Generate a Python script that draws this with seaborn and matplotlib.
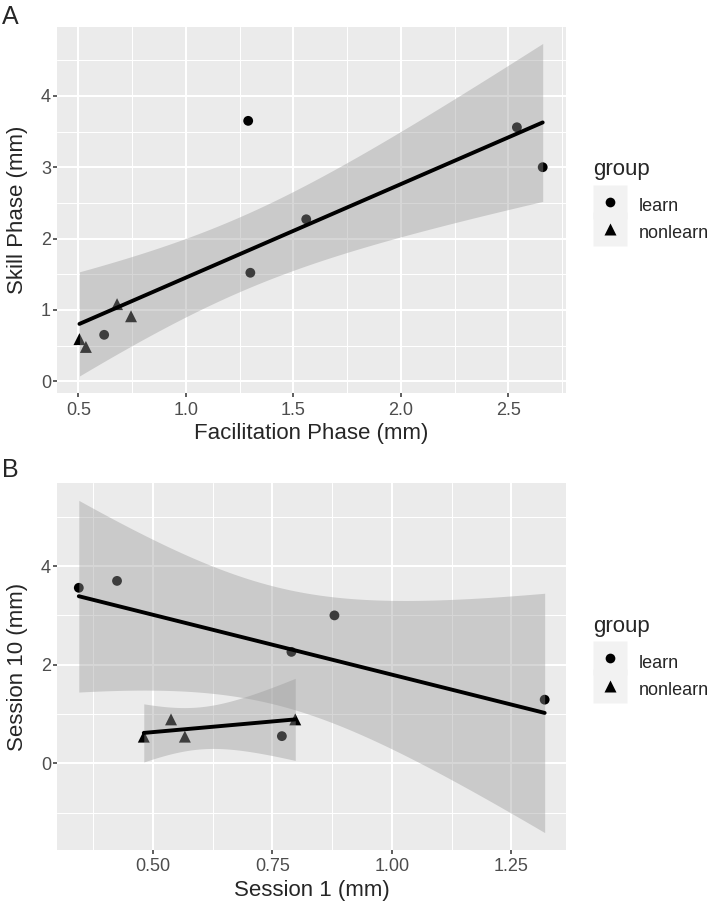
import numpy as np
import pandas as pd
import matplotlib
matplotlib.use("Agg")
import matplotlib.pyplot as plt
from matplotlib.ticker import MultipleLocator, FormatStrFormatter
from matplotlib.lines import Line2D
import seaborn as sns

# panel A: facilitation phase vs skill phase
groups_a = ["learn"] * 6 + ["nonlearn"] * 4
facilitation = [0.62, 1.29, 1.30, 1.56, 2.54, 2.66, 0.505, 0.535, 0.68, 0.745]
skill = [0.65, 3.65, 1.52, 2.27, 3.56, 3.00, 0.59, 0.48, 1.08, 0.91]

# panel B: session 1 vs session 10
groups_b = ["learn"] * 6 + ["nonlearn"] * 4
session1 = [0.345, 0.425, 0.77, 0.79, 0.88, 1.32, 0.481, 0.538, 0.567, 0.798]
session10 = [3.56, 3.70, 0.55, 2.26, 3.00, 1.29, 0.54, 0.89, 0.54, 0.89]

df_a = pd.DataFrame({"x": facilitation, "y": skill, "group": groups_a})
df_b = pd.DataFrame({"x": session1, "y": session10, "group": groups_b})

sns.set_style("darkgrid", {"axes.facecolor": "#EBEBEB", "grid.color": "white"})
plt.rcParams["font.family"] = ["Liberation Sans", "DejaVu Sans"]

# t quantiles (0.975) by degrees of freedom
T975 = {2: 4.303, 4: 2.776, 8: 2.306}


def lm_band(x, y, n=100):
    # 95% confidence band of a linear fit, like geom_smooth(method="lm")
    x = np.asarray(x)
    y = np.asarray(y)
    b, a = np.polyfit(x, y, 1)
    xs = np.linspace(x.min(), x.max(), n)
    resid = y - (a + b * x)
    s = np.sqrt((resid ** 2).sum() / (len(x) - 2))
    se = s * np.sqrt(1 / len(x) + (xs - x.mean()) ** 2 / ((x - x.mean()) ** 2).sum())
    fit = a + b * xs
    t = T975[len(x) - 2]
    return xs, fit - t * se, fit + t * se


def draw_fit(ax, d):
    xs, lo, hi = lm_band(d["x"], d["y"])
    ax.fill_between(xs, lo, hi, color="#999999", alpha=0.4, lw=0, zorder=3)
    sns.regplot(data=d, x="x", y="y", scatter=False, ci=None, truncate=True,
                line_kws={"color": "black", "lw": 2.8, "zorder": 4}, ax=ax)


def style_axes(ax, xmaj, ymaj, xfmt):
    ax.xaxis.set_major_locator(MultipleLocator(xmaj))
    ax.xaxis.set_minor_locator(MultipleLocator(xmaj / 2))
    ax.yaxis.set_major_locator(MultipleLocator(ymaj))
    ax.yaxis.set_minor_locator(MultipleLocator(ymaj / 2))
    ax.xaxis.set_major_formatter(FormatStrFormatter(xfmt))
    ax.yaxis.set_major_formatter(FormatStrFormatter("%d"))
    ax.grid(which="major", color="white", lw=1.5)
    ax.grid(which="minor", color="white", lw=0.75)
    ax.set_axisbelow(True)
    ax.tick_params(which="major", direction="out", length=3, width=1.1,
                   color="#333333", labelsize=13, labelcolor="#4D4D4D",
                   left=True, bottom=True)
    ax.tick_params(axis="x", pad=3)
    ax.tick_params(axis="y", pad=1.5)
    ax.tick_params(which="minor", length=0)
    for sp in ax.spines.values():
        sp.set_visible(False)


def add_legend(fig, key_top, title_y):
    handles = []
    for m, ms in [("o", 7.0), ("^", 8.6)]:
        bg = Line2D([], [], ls="", marker="s", ms=23.8, mfc="#F2F2F2", mec="none")
        fg = Line2D([], [], ls="", marker=m, ms=ms, mfc="black", mec="none")
        handles.append((bg, fg))
    fig.text(593 / 709, title_y, "group", fontsize=16, va="center", ha="left")
    fig.legend(handles, ["learn", "nonlearn"], loc="upper left",
               bbox_to_anchor=(593 / 709, key_top), frameon=False,
               borderpad=0, borderaxespad=0, handlelength=1.86,
               handleheight=1.86, handletextpad=0.67, labelspacing=0.05,
               fontsize=13)


fig = plt.figure(figsize=(7.09, 9.07), dpi=100)
ax_a = fig.add_axes([57.3 / 709, 1 - 393.3 / 907, 508.4 / 709, 366.6 / 907])
ax_b = fig.add_axes([57.3 / 709, 1 - 850 / 907, 508.4 / 709, 366.7 / 907])

marker_map = {"learn": "o", "nonlearn": "^"}
size_map = {"learn": 50, "nonlearn": 74}

# panel A
sns.scatterplot(data=df_a, x="x", y="y", style="group", markers=marker_map,
                size="group", sizes=size_map, color="black", linewidth=0,
                legend=False, ax=ax_a, zorder=2)
draw_fit(ax_a, df_a)
style_axes(ax_a, 0.5, 1, "%.1f")
ax_a.set_xlim(0.402, 2.767)
ax_a.set_ylim(-0.17, 4.97)
ax_a.set_xlabel("Facilitation Phase (mm)", fontsize=16)
ax_a.set_ylabel("Skill Phase (mm)", fontsize=16)

# panel B
sns.scatterplot(data=df_b, x="x", y="y", style="group", markers=marker_map,
                size="group", sizes=size_map, color="black", linewidth=0,
                legend=False, ax=ax_b, zorder=2)
for g in ["learn", "nonlearn"]:
    draw_fit(ax_b, df_b[df_b["group"] == g])
style_axes(ax_b, 0.25, 2, "%.2f")
ax_b.set_xlim(0.30, 1.364)
ax_b.set_ylim(-1.76, 5.68)
ax_b.set_xlabel("Session 1 (mm)", fontsize=16)
ax_b.set_ylabel("Session 10 (mm)", fontsize=16)

for ax in (ax_a, ax_b):
    h = ax.get_position().height * 907
    ax.xaxis.set_label_coords(0.5, -30 / h)
    ax.yaxis.set_label_coords(-29 / 508.4, 0.5)

add_legend(fig, 1 - 192.3 / 907, 1 - 170 / 907)
add_legend(fig, 1 - 649 / 907, 1 - 626.7 / 907)

fig.text(2 / 709, 1 - 5 / 907, "A", fontsize=18, va="top", ha="left")
fig.text(2 / 709, 1 - 458 / 907, "B", fontsize=18, va="top", ha="left")

fig.savefig("out.png", dpi=100)
